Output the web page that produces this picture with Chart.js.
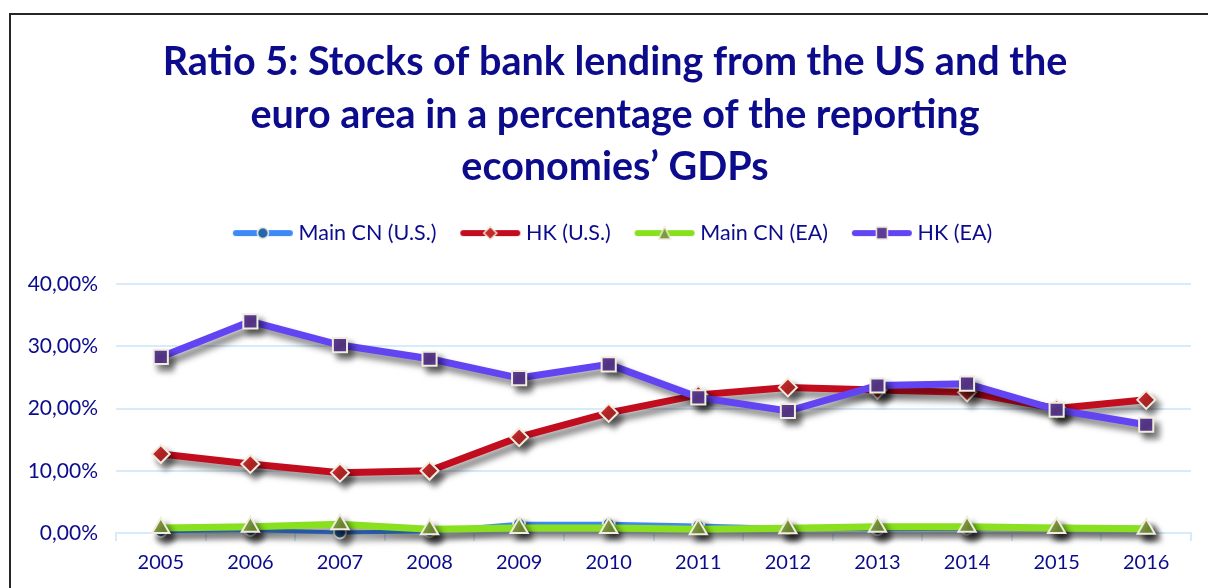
<!DOCTYPE html>
<html>
<head>
<meta charset="utf-8">
<script src="https://cdn.jsdelivr.net/npm/chart.js@4.4.1/dist/chart.umd.min.js"></script>
<style>
  html, body { margin: 0; padding: 0; background: #fff; overflow: hidden; }
  #frame {
    position: absolute; left: 9px; top: 13px;
    width: 1197px; height: 573px;
    border-left: 2px solid #262626; border-top: 2px solid #262626;
  }
</style>
</head>
<body>
<div id="frame"><canvas id="myChart"></canvas></div>
<script>
const years = ['2005', '2006', '2007', '2008', '2009', '2010', '2011', '2012', '2013', '2014', '2015', '2016'];

// % of reporting economies' GDP
const mainCnUs = [0.3, 0.5, 0.1, 0.3, 1.5, 1.5, 1.2, 0.8, 0.6, 0.7, 1.0, 0.8];
const hkUs = [12.7, 11.1, 9.7, 10.0, 15.4, 19.3, 22.2, 23.4, 23.0, 22.6, 20.0, 21.4];
const mainCnEa = [0.8, 1.0, 1.4, 0.6, 0.8, 0.8, 0.6, 0.75, 1.0, 1.0, 0.8, 0.7];
const hkEa = [28.3, 34.0, 30.2, 28.0, 24.9, 27.1, 21.8, 19.6, 23.7, 24.0, 19.8, 17.4];

const titleLines = [
  'Ratio 5: Stocks of bank lending from the US and the',
  'euro area in a percentage of the reporting',
  'economies\u2019 GDPs'
];

const navy = '#0b0b8c';
const cream = '#f0ecde';
const gridBlue = '#d7ebfa';

const series = [
  { label: 'Main CN (U.S.)', data: mainCnUs, line: '#3d8af7', mark: '#2466ad', style: 'circle', r: 6, width: 4, order: 3 },
  { label: 'HK (U.S.)', data: hkUs, line: '#c20d1f', mark: '#c4292b', style: 'rectRot', r: 9, width: 7, order: 2 },
  { label: 'Main CN (EA)', data: mainCnEa, line: '#88e01e', mark: '#7d9a3c', style: 'triangle', r: 10, width: 7, order: 1 },
  { label: 'HK (EA)', data: hkEa, line: '#6244f2', mark: '#5f3c94', style: 'rect', r: 10, width: 7, order: 0 }
];

// small line-with-marker swatch for the legend
const swatch = s => {
  const c = document.createElement('canvas');
  c.width = 62; c.height = 16;
  const g = c.getContext('2d');
  g.strokeStyle = s.line; g.lineWidth = 6; g.lineCap = 'round';
  g.beginPath(); g.moveTo(4, 8); g.lineTo(58, 8); g.stroke();
  g.fillStyle = s.mark; g.strokeStyle = cream; g.lineWidth = 1.5;
  g.beginPath();
  if (s.style === 'circle') g.arc(31, 8, 5.5, 0, Math.PI * 2);
  else if (s.style === 'rectRot') { g.moveTo(31, 1.5); g.lineTo(37.5, 8); g.lineTo(31, 14.5); g.lineTo(24.5, 8); g.closePath(); }
  else if (s.style === 'triangle') { g.moveTo(31, 1.5); g.lineTo(37, 14); g.lineTo(25, 14); g.closePath(); }
  else g.rect(25.5, 2, 11, 12);
  g.fill(); g.stroke();
  return c;
};

const dropShadow = {
  id: 'dropShadow',
  beforeDatasetDraw(chart) {
    const ctx = chart.ctx;
    ctx.save();
    ctx.shadowColor = 'rgba(0, 0, 0, 0.5)';
    ctx.shadowBlur = 6;
    ctx.shadowOffsetX = 5;
    ctx.shadowOffsetY = 6;
  },
  afterDatasetDraw(chart) {
    chart.ctx.restore();
  }
};

// extra room between the legend row and the plot
const legendGap = {
  id: 'legendGap',
  beforeLayout(chart) {
    const lg = chart.legend;
    if (lg && !lg._gapAdded) {
      const fit = lg.fit.bind(lg);
      lg.fit = function () { fit(); this.height += 30.25; };
      lg._gapAdded = true;
    }
  }
};

new Chart(document.getElementById('myChart'), {
  type: 'line',
  data: {
    labels: years,
    datasets: series.map(s => ({
      label: s.label,
      data: s.data,
      borderColor: s.line,
      backgroundColor: s.mark,
      borderWidth: s.width,
      pointStyle: s.style,
      pointRadius: s.r,
      pointHoverRadius: s.r,
      pointBackgroundColor: s.mark,
      pointBorderColor: cream,
      pointBorderWidth: 2,
      tension: 0,
      clip: false,
      order: s.order
    }))
  },
  options: {
    responsive: true,
    maintainAspectRatio: false,
    animation: false,
    layout: { padding: { left: 28, right: 17, top: 0, bottom: 3 } },
    plugins: {
      title: {
        display: true,
        text: titleLines,
        color: navy,
        font: { family: 'Lato', size: 39.5, weight: 'bold', lineHeight: 1.33 },
        padding: { top: 21, bottom: 0 }
      },
      legend: {
        display: true,
        labels: {
          usePointStyle: true,
          pointStyleWidth: 50,
          padding: 28.75,
          color: navy,
          font: { family: 'Lato', size: 21.5 },
          generateLabels: chart => chart.data.datasets.map((ds, i) => ({
            text: ds.label,
            pointStyle: swatch(series[i]),
            fillStyle: series[i].mark,
            strokeStyle: series[i].line,
            lineWidth: 0,
            fontColor: navy,
            hidden: !chart.isDatasetVisible(i),
            datasetIndex: i
          }))
        }
      },
      tooltip: { enabled: false }
    },
    scales: {
      x: {
        offset: true,
        border: { display: true, color: gridBlue, width: 2 },
        grid: { offset: true, drawOnChartArea: false, tickLength: 8, color: gridBlue, lineWidth: 2 },
        ticks: { color: navy, padding: 10, font: { family: 'Lato', size: 20 } }
      },
      y: {
        min: 0,
        max: 40,
        afterFit: scale => {
          scale.width = 77;
          // labels run into the left padding, so don't clip them to the axis box
          scale._computeLabelArea = () => undefined;
        },
        border: { display: false },
        grid: { color: gridBlue, lineWidth: 2, drawTicks: false },
        ticks: {
          stepSize: 10,
          padding: 18,
          color: navy,
          font: { family: 'Lato', size: 21 },
          callback: v => v.toFixed(2).replace('.', ',') + '%'
        }
      }
    }
  },
  plugins: [dropShadow, legendGap]
});
</script>
</body>
</html>
